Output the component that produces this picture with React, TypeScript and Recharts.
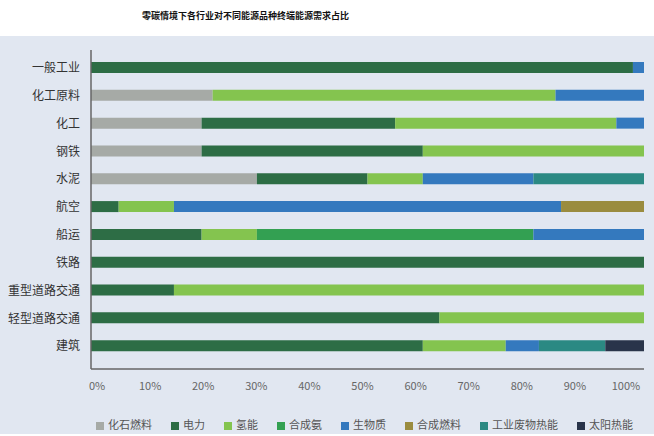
import { BarChart, Bar, XAxis, YAxis, Legend } from 'recharts';

const categories = ['一般工业', '化工原料', '化工', '钢铁', '水泥', '航空', '船运', '铁路', '重型道路交通', '轻型道路交通', '建筑'];

const fossil = [0, 22, 20, 20, 30, 0, 0, 0, 0, 0, 0];
const power = [98, 0, 35, 40, 20, 5, 20, 100, 15, 63, 60];
const hydrogen = [0, 62, 40, 40, 10, 10, 10, 0, 85, 37, 15];
const ammonia = [0, 0, 0, 0, 0, 0, 50, 0, 0, 0, 0];
const biomass = [2, 16, 5, 0, 20, 70, 20, 0, 0, 0, 6];
const synFuel = [0, 0, 0, 0, 0, 15, 0, 0, 0, 0, 0];
const wasteHeat = [0, 0, 0, 0, 20, 0, 0, 0, 0, 0, 12];
const solarHeat = [0, 0, 0, 0, 0, 0, 0, 0, 0, 0, 7];

const xTicks = [0, 10, 20, 30, 40, 50, 60, 70, 80, 90, 100];

const series = [
  { key: 'fossil', name: '化石燃料', values: fossil, color: '#a6aaa6' },
  { key: 'power', name: '电力', values: power, color: '#2d6d45' },
  { key: 'hydrogen', name: '氢能', values: hydrogen, color: '#84c44f' },
  { key: 'ammonia', name: '合成氨', values: ammonia, color: '#33a052' },
  { key: 'biomass', name: '生物质', values: biomass, color: '#3479be' },
  { key: 'synFuel', name: '合成燃料', values: synFuel, color: '#9a8c3f' },
  { key: 'wasteHeat', name: '工业废物热能', values: wasteHeat, color: '#2b8983' },
  { key: 'solarHeat', name: '太阳热能', values: solarHeat, color: '#29344a' },
];
const legendOrder = series.map((s) => s.name);

const data = categories.map((name, i) => {
  const row: Record<string, string | number> = { name };
  series.forEach((s) => {
    row[s.key] = s.values[i];
  });
  return row;
});

const FONT = "'Noto Sans CJK SC', 'Noto Sans', sans-serif";

// labels in the source sit a little inside the bar range, nudge them the same way
const XTick = (props: any) => {
  const { x, y, payload } = props;
  const dx = 6 - (payload.value / 100) * 22;
  return (
    <text x={x + dx} y={y} dy="0.71em" textAnchor="middle" fill="#666" fontSize={11} fontFamily={FONT}>
      {`${payload.value}%`}
    </text>
  );
};

export default function App() {
  return (
    <div style={{ position: 'absolute', left: 0, top: 0, width: 654, height: 436, background: '#fff', fontFamily: FONT }}>
      <div
        style={{
          position: 'absolute',
          left: 142,
          top: 9,
          fontSize: 9,
          fontWeight: 'bold',
          color: '#111',
          whiteSpace: 'nowrap',
        }}
      >
        零碳情境下各行业对不同能源品种终端能源需求占比
      </div>
      <div style={{ position: 'absolute', left: 0, top: 36, width: 654, height: 398, background: '#e1e7f1' }}>
        <BarChart
          width={654}
          height={398}
          data={data}
          layout="vertical"
          margin={{ top: 14, right: 10, left: 0, bottom: 19 }}
          barSize={11}
        >
          <XAxis
            type="number"
            domain={[0, 100]}
            ticks={xTicks}
            axisLine={{ stroke: '#666', strokeWidth: 1.5 }}
            tickLine={false}
            tickMargin={7}
            height={30}
            tick={<XTick />}
          />
          <YAxis
            type="category"
            dataKey="name"
            width={91}
            padding={{ top: 4, bottom: 9 }}
            axisLine={{ stroke: '#666', strokeWidth: 1.5 }}
            tickLine={false}
            tickSize={0}
            tickMargin={11}
            tick={{ fill: '#333', fontSize: 12, fontFamily: FONT }}
          />
          <Legend
            verticalAlign="bottom"
            align="left"
            iconType="square"
            iconSize={8}
            itemSorter={(item: { value: string }) => legendOrder.indexOf(item.value)}
            wrapperStyle={{ left: 96, top: 380, fontSize: 11, fontFamily: FONT }}
            formatter={(value: string) => (
              <span style={{ color: '#555', marginRight: 9 }}>{value}</span>
            )}
          />
          {series.map((s) => (
            <Bar key={s.key} dataKey={s.key} name={s.name} stackId="a" fill={s.color} isAnimationActive={false} />
          ))}
        </BarChart>
      </div>
    </div>
  );
}
